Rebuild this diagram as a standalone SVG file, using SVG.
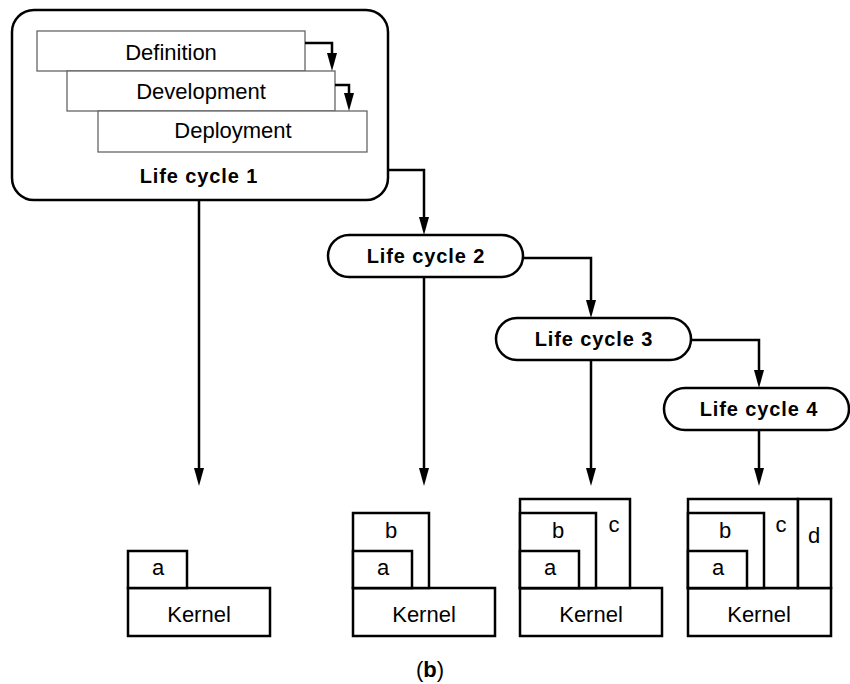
<svg xmlns="http://www.w3.org/2000/svg" width="850" height="684" viewBox="0 0 850 684">
<defs>
<marker id="ah" viewBox="0 0 18 10" markerWidth="18" markerHeight="10" markerUnits="userSpaceOnUse" refX="8" refY="5" orient="auto">
<path d="M0,0 L18,5 L0,10 z" fill="#000"/>
</marker>
<style>
.conn{fill:none;stroke:#000;stroke-width:2.5;marker-end:url(#ah)}
.pill{fill:#fff;stroke:#000;stroke-width:2.5}
.stage{fill:#fff;stroke:#666;stroke-width:1.3}
.box{fill:#fff;stroke:#000;stroke-width:2.5}
.t{font-family:"Liberation Sans",Arial,sans-serif;font-size:22px;text-anchor:middle;fill:#000}
.b{font-family:"Liberation Sans",Arial,sans-serif;font-size:20px;font-weight:bold;letter-spacing:0.9px;text-anchor:middle;fill:#000}
</style>
</defs>
<rect width="850" height="684" fill="#fff"/>

<g id="lifecycle1">
<rect class="pill" x="12" y="10" width="376" height="190" rx="22"/>
<rect class="stage" x="37" y="31" width="268" height="40"/>
<text class="t" x="171" y="60">Definition</text>
<rect class="stage" x="67" y="71" width="268" height="40"/>
<text class="t" x="201" y="99">Development</text>
<rect class="stage" x="98" y="111" width="269" height="41"/>
<text class="t" x="233" y="138">Deployment</text>
<text class="b" x="199" y="183">Life cycle 1</text>
</g>

<g id="lifecycle2">
<rect class="pill" x="328" y="235" width="195" height="42" rx="21"/>
<text class="b" x="426" y="263">Life cycle 2</text>
</g>

<g id="lifecycle3">
<rect class="pill" x="496" y="318" width="195" height="42" rx="21"/>
<text class="b" x="594" y="346">Life cycle 3</text>
</g>

<g id="lifecycle4">
<rect class="pill" x="664" y="388" width="185" height="42" rx="21"/>
<text class="b" x="759" y="416">Life cycle 4</text>
</g>

<g id="connectors">
<path class="conn" d="M305,43 H332 V61"/>
<path class="conn" d="M335,85 H349 V101"/>
<path class="conn" d="M199,200 V476"/>
<path class="conn" d="M388,170 H424 V225"/>
<path class="conn" d="M424,277 V476"/>
<path class="conn" d="M523,258 H591 V308"/>
<path class="conn" d="M591,360 V476"/>
<path class="conn" d="M691,340 H759 V378"/>
<path class="conn" d="M759,430 V476"/>
</g>

<g id="system1">
<rect class="box" x="128" y="588" width="142" height="48"/>
<text class="t" x="199" y="622">Kernel</text>
<rect class="box" x="128" y="551" width="59" height="37"/>
<text class="t" x="158" y="575">a</text>
</g>

<g id="system2">
<rect class="box" x="353" y="588" width="142" height="48"/>
<text class="t" x="424" y="622">Kernel</text>
<rect class="box" x="353" y="513" width="76" height="75"/>
<text class="t" x="391" y="538">b</text>
<rect class="box" x="353" y="551" width="59" height="37"/>
<text class="t" x="383" y="575">a</text>
</g>

<g id="system3">
<rect class="box" x="520" y="588" width="142" height="48"/>
<text class="t" x="591" y="622">Kernel</text>
<rect class="box" x="520" y="499" width="110" height="89"/>
<text class="t" x="614" y="532">c</text>
<rect class="box" x="520" y="513" width="76" height="75"/>
<text class="t" x="558" y="538">b</text>
<rect class="box" x="520" y="551" width="59" height="37"/>
<text class="t" x="550" y="575">a</text>
</g>

<g id="system4">
<rect class="box" x="688" y="588" width="143" height="48"/>
<text class="t" x="759" y="622">Kernel</text>
<rect class="box" x="688" y="499" width="110" height="89"/>
<text class="t" x="781" y="532">c</text>
<rect class="box" x="798" y="499" width="33" height="89"/>
<text class="t" x="814" y="543">d</text>
<rect class="box" x="688" y="513" width="76" height="75"/>
<text class="t" x="725" y="538">b</text>
<rect class="box" x="688" y="551" width="59" height="37"/>
<text class="t" x="718" y="575">a</text>
</g>

<text class="t" x="430" y="677">(<tspan font-weight="bold">b</tspan>)</text>
</svg>
